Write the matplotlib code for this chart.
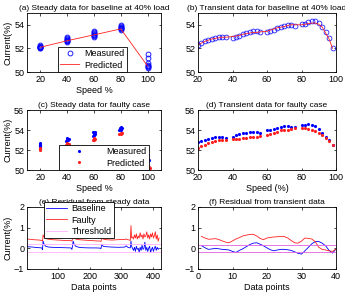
import numpy as np
import matplotlib
matplotlib.use("Agg")
import matplotlib.pyplot as plt

plt.rcParams['font.family'] = ['Liberation Sans', 'DejaVu Sans']
plt.rcParams['font.size'] = 6.5
plt.rcParams['axes.titlesize'] = 6.0
plt.rcParams['legend.fontsize'] = 6.5
plt.rcParams['axes.linewidth'] = 0.6
plt.rcParams['xtick.direction'] = 'in'
plt.rcParams['ytick.direction'] = 'in'
plt.rcParams['xtick.major.size'] = 1.8
plt.rcParams['ytick.major.size'] = 1.8
plt.rcParams['xtick.major.width'] = 0.5
plt.rcParams['ytick.major.width'] = 0.5
plt.rcParams['xtick.top'] = True
plt.rcParams['ytick.right'] = True
plt.rcParams['xtick.major.pad'] = 2.5
plt.rcParams['ytick.major.pad'] = 2

# (a) steady data, baseline
speeds = [20, 40, 60, 80, 100]
base_steady_meas = {
    20: [52.0, 52.05, 52.1, 52.1, 52.15, 52.2, 52.25, 52.12],
    40: [52.55, 52.6, 52.7, 52.75, 52.8, 52.9, 52.95, 52.65],
    60: [53.0, 53.05, 53.1, 53.2, 53.3, 53.35, 53.45, 53.15],
    80: [53.6, 53.65, 53.7, 53.75, 53.8, 53.9, 53.95, 53.7],
    100: [50.35, 50.45, 50.5, 50.55, 50.6, 50.8, 51.15, 51.55],
}
base_steady_pred = [52.1, 52.65, 53.15, 53.65, 50.5]

# (c) steady data, faulty
fault_steady_meas_x = [20, 20, 20, 20, 20, 20, 20,
                       39, 40, 41, 40, 39.5, 40.5, 40,
                       59, 60, 61, 60, 59.5, 60.5, 60,
                       79, 80, 81, 80, 79.5, 80.5, 80,
                       99, 100, 101, 100, 99.5, 100.5, 99]
fault_steady_meas_y = [52.3, 52.4, 52.5, 52.6, 52.7, 52.45, 52.55,
                       52.9, 53.0, 53.1, 53.15, 53.2, 53.05, 53.1,
                       53.4, 53.5, 53.6, 53.7, 53.8, 53.85, 53.55,
                       54.0, 54.1, 54.2, 54.3, 54.25, 54.05, 54.15,
                       50.8, 50.9, 51.0, 51.1, 51.3, 51.5, 52.0]
fault_steady_pred_x = [20, 20, 20, 20,
                       39, 40, 41, 40,
                       59, 60, 61, 60,
                       79, 80, 81, 80,
                       98, 99, 99.5, 100, 100.5, 101, 101.5]
fault_steady_pred_y = [52.0, 52.1, 52.15, 52.2,
                       52.55, 52.6, 52.65, 52.7,
                       53.0, 53.05, 53.1, 53.2,
                       53.6, 53.65, 53.7, 53.75,
                       50.85, 50.7, 50.6, 50.5, 50.4, 50.3, 50.2]

# (b), (d) transient data
trans_speed = [20, 22, 24, 26, 28, 30, 32, 34, 36,
               40, 42, 44, 46, 48, 50, 52, 54, 56,
               60, 62, 64, 66, 68, 70, 72, 74, 76,
               80, 82, 84, 86, 88, 90, 92, 94, 96, 98]
base_trans_meas = [52.3, 52.45, 52.6, 52.7, 52.8, 52.9, 52.95, 52.95, 52.95,
                   52.9, 52.95, 53.05, 53.2, 53.3, 53.4, 53.45, 53.45, 53.4,
                   53.35, 53.45, 53.6, 53.7, 53.8, 53.9, 53.95, 53.95, 53.9,
                   54.05, 54.1, 54.2, 54.35, 54.3, 54.15, 53.85, 53.35, 52.85, 52.05]
base_trans_pred = [52.3, 52.45, 52.6, 52.7, 52.8, 52.85, 52.9, 52.95, 52.95,
                   53.0, 53.05, 53.1, 53.2, 53.25, 53.3, 53.35, 53.35, 53.4,
                   53.45, 53.55, 53.65, 53.75, 53.8, 53.85, 53.95, 54.0, 54.0,
                   54.0, 54.05, 54.1, 54.15, 54.15, 54.05, 53.8, 53.3, 52.8, 52.0]
fault_trans_meas = [52.8, 52.9, 53.0, 53.1, 53.2, 53.35, 53.35, 53.3, 53.2,
                    53.35, 53.5, 53.6, 53.7, 53.75, 53.85, 53.85, 53.8, 53.75,
                    54.0, 54.05, 54.15, 54.25, 54.35, 54.4, 54.4, 54.35, 54.3,
                    54.45, 54.55, 54.6, 54.55, 54.4, 54.1, 53.7, 53.3, 52.95, 52.45]
fault_trans_pred = [52.2, 52.4, 52.55, 52.7, 52.8, 52.9, 52.95, 53.0, 53.0,
                    53.1, 53.1, 53.15, 53.2, 53.25, 53.3, 53.3, 53.35, 53.4,
                    53.55, 53.65, 53.75, 53.85, 53.95, 54.0, 54.05, 54.15, 54.2,
                    54.2, 54.2, 54.1, 54.05, 53.9, 53.75, 53.5, 53.2, 52.9, 52.45]

# (e) residual from steady data
res_steady_x = [1, 10, 20, 30, 40, 48, 50, 52, 55, 60, 70, 80, 100, 120, 140,
                143, 145, 147, 150, 155, 165, 180, 200, 220, 233, 235, 238, 242,
                250, 270, 290, 310, 315, 320, 325, 328, 330, 332,
                335, 338, 341, 344, 347, 350, 353, 356, 359, 362, 365, 368, 371,
                374, 377, 380, 383, 386, 389, 392, 395, 398, 401, 404, 407, 410,
                413, 416, 419]
res_steady_base = [0.08, 0.07, 0.06, 0.04, 0.03, 0.02, -0.07, 0.35, 0.2, 0.1, 0.06,
                   0.05, 0.04, 0.03, 0.02, -0.05, 0.1, 0.35, 0.2, 0.1, 0.05, 0.03,
                   0.02, 0.02, 0.01, -0.02, 0.2, 0.1, 0.08, 0.06, 0.05, 0.06, 0.12,
                   0.05, 0.03, 0.02, 0.35, 0.1,
                   0.0, -0.1, 0.05, -0.15, 0.1, -0.05, 0.0, -0.2, 0.05, -0.1, 0.15,
                   -0.05, 0.0, 0.3, -0.1, 0.05, -0.15, 0.0, 0.1, -0.2, -0.05, 0.05,
                   -0.15, 0.0, 0.1, -0.1, 0.05, -0.05, 0.0]
res_steady_fault = [0.45, 0.44, 0.42, 0.41, 0.4, 0.38, 0.35, 0.65, 0.55, 0.47, 0.44,
                    0.42, 0.4, 0.38, 0.37, 0.35, 0.45, 0.62, 0.5, 0.45, 0.42, 0.4,
                    0.38, 0.36, 0.35, 0.33, 0.5, 0.45, 0.42, 0.4, 0.42, 0.43, 0.45,
                    0.42, 0.4, 0.38, 1.1, 0.5,
                    0.55, 0.45, 0.65, 0.5, 0.7, 0.45, 0.6, 0.5, 0.75, 0.55, 0.65,
                    0.45, 0.7, 0.55, 0.6, 0.8, 0.5, 0.65, 0.45, 0.7, 0.55, 0.75,
                    0.5, 0.6, 0.8, 0.45, 0.65, 0.35, 0.5]
steady_threshold = [0.2, -0.2]

# (f) residual from transient data
res_trans_x = list(range(1, 41))
res_trans_base = [0.13, 0.03, -0.05, -0.03, 0.0, -0.02, -0.05, -0.06, -0.08, -0.15,
                  -0.2, -0.1, -0.02, 0.08, 0.18, 0.25, 0.27, 0.2, 0.12, 0.02,
                  -0.07, -0.12, -0.08, -0.05, -0.05, -0.07, -0.1, -0.17, -0.24, -0.28,
                  -0.12, 0.05, 0.22, 0.33, 0.33, 0.25, 0.12, -0.1, -0.23, -0.03]
res_trans_fault = [0.58, 0.5, 0.44, 0.45, 0.47, 0.43, 0.36, 0.3, 0.27, 0.36,
                   0.45, 0.52, 0.6, 0.64, 0.67, 0.68, 0.6, 0.48, 0.42, 0.5,
                   0.53, 0.55, 0.56, 0.58, 0.57, 0.5, 0.38, 0.27, 0.25, 0.35,
                   0.5, 0.48, 0.45, 0.32, 0.05, -0.05, -0.08, -0.12, -0.15, -0.03]
trans_threshold = [0.18, -0.18]

blue = '#0000ff'
red = '#ff2020'
mag = '#e060e0'
pink = '#ffb0ff'

W, H = 345, 293
fig = plt.figure(figsize=(W / 100, H / 100), dpi=100)

def add(l, t, r, b):
    return fig.add_axes([l / W, 1 - b / H, (r - l) / W, (b - t) / H])

def legend_at(ax, x, y, **kw):
    leg = ax.legend(loc='upper left', bbox_to_anchor=(x / W, 1 - y / H),
                    bbox_transform=fig.transFigure, fancybox=False, edgecolor='black',
                    framealpha=1, borderpad=0.25, labelspacing=0.25,
                    borderaxespad=0, **kw)
    leg.get_frame().set_linewidth(0.6)
    leg.set_zorder(5)
    return leg

ax_a = add(27, 13, 161, 72)
ax_b = add(198, 13, 336, 72)
ax_c = add(27, 110, 161, 170)
ax_d = add(198, 110, 336, 170)
ax_e = add(27, 207, 161, 269)
ax_f = add(198, 207, 336, 269)

# (a)
first = True
for s in speeds:
    ax_a.plot([s] * len(base_steady_meas[s]), base_steady_meas[s], 'o', mfc='none',
              mec=blue, ms=3.5, mew=0.6, label='Measured' if first else None)
    first = False
ax_a.plot(speeds, base_steady_pred, '-', color=red, lw=0.6, label='Predicted')
ax_a.set_xlim(10, 110)
ax_a.set_ylim(50, 55)
ax_a.set_xticks([20, 40, 60, 80, 100])
ax_a.set_yticks([50, 52, 54])
ax_a.set_title('(a) Steady data for baseline at 40% load', pad=2)
ax_a.set_xlabel('Speed %', labelpad=1)
ax_a.set_ylabel('Current(%)', labelpad=1)
legend_at(ax_a, 58, 47, handlelength=2.1, handletextpad=0.6)

# (b)
ax_b.plot(trans_speed, base_trans_meas, 'o', mfc='none', mec=blue, ms=3.5, mew=0.5)
ax_b.plot(trans_speed, base_trans_pred, '-', color=red, lw=0.6)
ax_b.set_xlim(20, 100)
ax_b.set_ylim(50, 55)
ax_b.set_xticks([20, 40, 60, 80, 100])
ax_b.set_yticks([50, 52, 54])
ax_b.set_title('(b) Transient data for baseline at 40% load', pad=2)

# (c)
ax_c.plot(fault_steady_meas_x, fault_steady_meas_y, '.', color=blue, ms=2.5, label='Measured')
ax_c.plot(fault_steady_pred_x, fault_steady_pred_y, '.', color=red, ms=2.5, label='Predicted')
ax_c.set_xlim(10, 110)
ax_c.set_ylim(50, 56)
ax_c.set_xticks([20, 40, 60, 80, 100])
ax_c.set_yticks([50, 52, 54, 56])
ax_c.set_title('(c) Steady data for faulty case', pad=2)
ax_c.set_xlabel('Speed %', labelpad=1)
ax_c.set_ylabel('Current(%)', labelpad=1)
legend_at(ax_c, 59, 145, handlelength=4.0, handletextpad=1.0)

# (d)
ax_d.plot(trans_speed, fault_trans_meas, '.', color=blue, ms=2.5)
ax_d.plot(trans_speed, fault_trans_pred, '.', color=red, ms=2.5)
ax_d.set_xlim(20, 100)
ax_d.set_ylim(50, 56)
ax_d.set_xticks([20, 40, 60, 80, 100])
ax_d.set_yticks([50, 52, 54, 56])
ax_d.set_title('(d) Transient data for faulty case', pad=2)
ax_d.set_xlabel('Speed (%)', labelpad=1)

# (e)
ax_e.plot(res_steady_x, res_steady_base, '-', color=blue, lw=0.6, label='Baseline')
ax_e.plot(res_steady_x, res_steady_fault, '-', color=red, lw=0.6, label='Faulty')
for i, th in enumerate(steady_threshold):
    ax_e.axhline(th, color=pink, lw=0.6, label='Threshold' if i == 0 else None)
ax_e.set_xlim(1, 425)
ax_e.set_ylim(-1, 2)
ax_e.set_xticks([100, 200, 300, 400])
ax_e.set_yticks([-1, 0, 1, 2])
ax_e.set_title('(e) Residual from steady data', pad=2)
ax_e.set_xlabel('Data points', labelpad=1)
ax_e.set_ylabel('Current(%)', labelpad=1)
legend_at(ax_e, 44, 202, handlelength=2.3, handletextpad=0.5)

# (f)
ax_f.plot(res_trans_x, res_trans_base, '-', color=blue, lw=0.6)
ax_f.plot(res_trans_x, res_trans_fault, '-', color=red, lw=0.6)
for th in trans_threshold:
    ax_f.axhline(th, color=mag, lw=0.6)
ax_f.set_xlim(0, 40)
ax_f.set_ylim(-1, 2)
ax_f.set_xticks([0, 10, 20, 30, 40])
ax_f.set_yticks([-1, 0, 1, 2])
ax_f.set_title('(f) Residual from transient data', pad=2)
ax_f.set_xlabel('Data points', labelpad=1)

fig.savefig('out.png', dpi=100)
